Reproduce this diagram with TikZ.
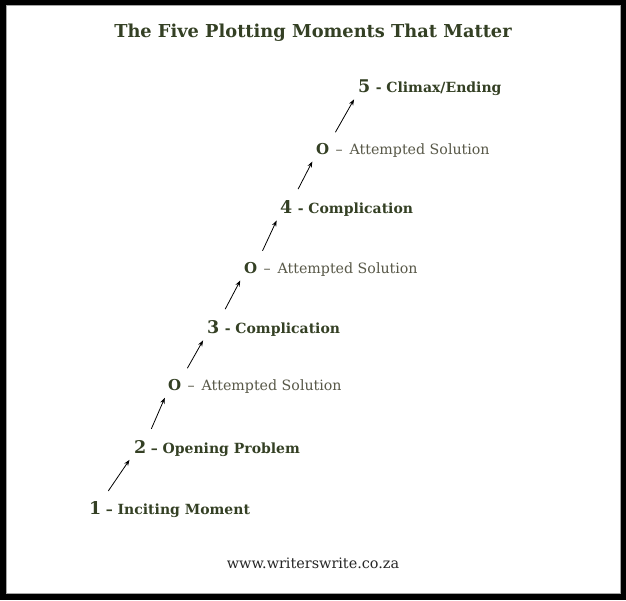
\documentclass[tikz,border=0pt]{standalone}
\usepackage{fontspec}
\setmainfont{DejaVu Serif}
\usetikzlibrary{arrows.meta}
\definecolor{plotgreen}{RGB}{52,64,36}
\definecolor{solgray}{RGB}{88,88,72}
\tikzset{
  heading/.style={inner sep=0pt, anchor=base, text=plotgreen,
    font=\bfseries\fontsize{17.8}{20}\selectfont},
  num/.style={inner sep=0pt, anchor=base west, text=plotgreen,
    font=\bfseries\fontsize{17.5}{20}\selectfont},
  onum/.style={inner sep=0pt, anchor=base west, text=plotgreen,
    font=\bfseries\fontsize{15}{17}\selectfont},
  moment/.style={inner sep=0pt, anchor=base west, text=plotgreen,
    font=\bfseries\fontsize{14}{16}\selectfont},
  attempt/.style={inner sep=0pt, anchor=base west, text=solgray,
    font=\fontsize{14.2}{16}\selectfont},
  uparrow/.style={-{Stealth[length=6pt,width=4.5pt]}, black, line width=0.8pt,
    shorten <=12pt, shorten >=8pt},
}
\begin{document}
\begin{tikzpicture}[x=1pt,y=-1pt]
  % frame
  \fill[black] (0,0) rectangle (626,600);
  \fill[white] (6,5) rectangle (620,593);
  \draw[gray!70, line width=1pt] (6,5) rectangle (620,593);

  \node[heading] (title) at (313,37) {The Five Plotting Moments That Matter};

  \node[num] (m1) at (89,514) {1};
  \node[moment] (t1) at ([xshift=4pt]m1.base east) {-- Inciting Moment};
  \node[num] (m2) at (134,453) {2};
  \node[moment] (t2) at ([xshift=4pt]m2.base east) {-- Opening Problem};
  \node[onum] (m3) at (168,390) {O};
  \node[attempt] (t3) at ([xshift=6pt]m3.base east) {-- \,Attempted Solution};
  \node[num] (m4) at (207,333) {3};
  \node[moment] (t4) at ([xshift=5pt]m4.base east) {- Complication};
  \node[onum] (m5) at (244,273) {O};
  \node[attempt] (t5) at ([xshift=6pt]m5.base east) {-- \,Attempted Solution};
  \node[num] (m6) at (280,213) {4};
  \node[moment] (t6) at ([xshift=5pt]m6.base east) {- Complication};
  \node[onum] (m7) at (316,154) {O};
  \node[attempt] (t7) at ([xshift=6pt]m7.base east) {-- \,Attempted Solution};
  \node[num] (m8) at (358,92) {5};
  \node[moment] (t8) at ([xshift=5pt]m8.base east) {- Climax/Ending};

  \foreach \a/\b in {m1/m2,m2/m3,m3/m4,m4/m5,m5/m6,m6/m7,m7/m8}
    \draw[uparrow] (\a.north east) -- (\b.south west);

  \node[attempt, anchor=base, text=black!85, font=\fontsize{14.4}{16}\selectfont]
    (url) at (313,568) {www.writerswrite.co.za};
\end{tikzpicture}
\end{document}
